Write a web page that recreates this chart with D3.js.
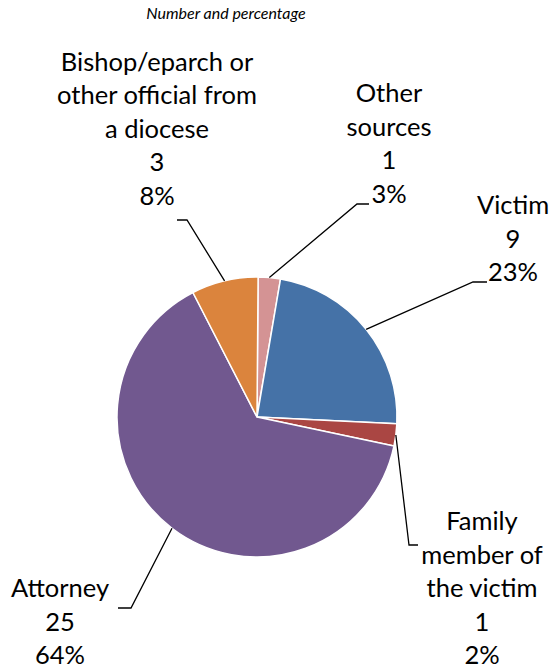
<!DOCTYPE html>
<html>
<head>
<meta charset="utf-8">
<script src="https://cdn.jsdelivr.net/npm/d3@7"></script>
<style>
  body { margin: 0; background: #fff; }
  text { font-family: Lato, "Open Sans", sans-serif; fill: #000; }
</style>
</head>
<body>
<script>
// Data
const categories = ['Other sources', 'Victim', 'Family member of the victim', 'Attorney', 'Bishop/eparch or other official from a diocese'];
const counts = [1, 9, 1, 25, 3];
const percentLabels = ['3%', '23%', '2%', '64%', '8%'];
const nameLines = [['Other', 'sources'], ['Victim'], ['Family', 'member of', 'the victim'], ['Attorney'], ['Bishop/eparch or', 'other official from', 'a diocese']];
const colors = ['#d49394', '#4572a7', '#aa4643', '#71588f', '#db843d'];

const width = 553, height = 668;
const cx = 257, cy = 417, radius = 140;
const lineH = 33.5;

// label placement: text centre x, first baseline y, leader elbow + end
const labelLayout = [
    { x: 389, y: 102, elbow: [357, 204], end: [369, 204] },
    { x: 513, y: 214, elbow: [473, 282], end: [487, 282] },
    { x: 482, y: 530, elbow: [409, 545], end: [418, 545] },
    { x: 60, y: 597, elbow: [131, 608], end: [118, 608] },
    { x: 157, y: 70.5, elbow: [187, 220], end: [177, 220] }
];

const svg = d3.select('body')
    .append('svg')
    .attr('width', width)
    .attr('height', height);

// Title
svg.append('text')
    .attr('x', 226)
    .attr('y', 19)
    .attr('text-anchor', 'middle')
    .style('font-style', 'italic')
    .style('font-size', '16px')
    .text('Number and percentage');

const offset = 0.45 * Math.PI / 180;
const pie = d3.pie()
    .sort(null)
    .startAngle(offset)
    .endAngle(2 * Math.PI + offset);

const arcs = pie(counts);
const arc = d3.arc().innerRadius(0).outerRadius(radius);

const g = svg.append('g').attr('transform', `translate(${cx},${cy})`);

g.selectAll('path')
    .data(arcs)
    .enter()
    .append('path')
    .attr('d', arc)
    .attr('fill', (d, i) => colors[i])
    .attr('stroke', '#fff')
    .attr('stroke-width', 1.5)
    .attr('stroke-linejoin', 'round');

// Leader lines
svg.selectAll('.leader')
    .data(arcs)
    .enter()
    .append('polyline')
    .attr('class', 'leader')
    .attr('fill', 'none')
    .attr('stroke', '#000')
    .attr('stroke-width', 1.3)
    .attr('points', (d, i) => {
        const a = (d.startAngle + d.endAngle) / 2;
        const p0 = [cx + radius * Math.sin(a), cy - radius * Math.cos(a)];
        const L = labelLayout[i];
        return [p0, L.elbow, L.end].map(p => p.join(',')).join(' ');
    });

// Labels
arcs.forEach((d, i) => {
    const L = labelLayout[i];
    const lines = nameLines[i].concat([String(counts[i]), percentLabels[i]]);
    const t = svg.append('text')
        .attr('text-anchor', 'middle')
        .style('font-size', '25.5px');
    lines.forEach((s, k) => {
        t.append('tspan')
            .attr('x', L.x)
            .attr('y', L.y + k * lineH)
            .text(s);
    });
});
</script>
</body>
</html>
